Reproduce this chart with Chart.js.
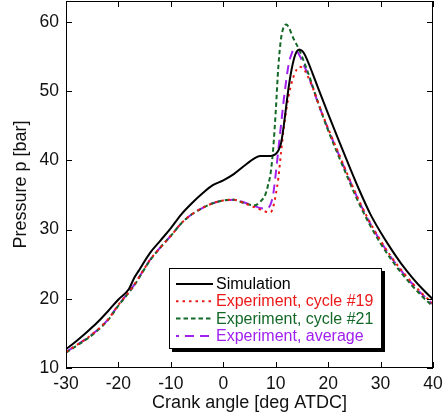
<!DOCTYPE html>
<html><head><meta charset="utf-8">
<script src="https://cdn.jsdelivr.net/npm/chart.js@4/dist/chart.umd.min.js"></script>
<style>html,body{margin:0;padding:0;background:#fff;overflow:hidden}canvas{display:block}</style>
</head><body>
<canvas id="c" width="446" height="419"></canvas>
<script>
// Crank angle [deg ATDC]
const angles = [-30,-28,-26,-24,-22,-20,-18,-17,-16,-14,-12,-10,-8,-6,-4,-2,0,2,4,6,7,8,8.5,9,9.5,10,10.5,11,11.5,12,12.5,13,13.5,14,14.5,15,15.5,16,17,18,20,22,24,26,28,30,32,34,36,38,40];
// Pressure [bar]
const simulation = [12.7,13.9,15.2,16.6,18.2,19.9,21.4,23.0,24.2,26.6,28.4,30.2,32.2,33.8,35.2,36.4,37.1,38.0,39.2,40.3,40.6,40.6,40.6,40.6,40.7,40.9,41.4,42.4,44.8,47.8,50.7,53.0,54.7,55.7,56.0,55.8,55.3,54.5,52.6,50.6,46.7,42.9,39.2,35.6,32.3,29.6,27.2,25.0,23.1,21.4,19.9];
const cycle19 = [12.3,13.3,14.3,15.5,17.0,19.1,21.0,22.0,23.2,25.6,27.4,29.1,30.9,32.2,33.1,33.8,34.2,34.3,33.8,33.2,32.9,32.6,32.5,32.5,33.2,35.0,37.4,41.0,44.4,47.2,49.4,51.1,52.3,53.1,53.5,53.4,53.0,52.3,50.6,48.5,44.6,41.0,37.4,34.0,31.0,28.4,26.1,24.1,22.3,20.7,19.3];
const cycle21 = [12.2,13.2,14.2,15.4,16.9,19.0,20.9,21.9,23.1,25.5,27.4,29.1,30.9,32.2,33.1,33.8,34.2,34.3,33.8,33.5,34.0,35.0,36.3,38.0,41.5,47.0,53.5,57.5,59.2,59.6,59.2,58.3,57.4,56.7,55.9,55.0,54.0,53.0,50.8,48.5,44.3,40.6,37.0,33.6,30.6,28.0,25.7,23.7,21.9,20.3,18.9];
const average = [12.3,13.3,14.3,15.5,17.0,19.1,21.0,22.0,23.2,25.6,27.4,29.1,30.9,32.2,33.1,33.8,34.2,34.3,33.9,33.4,33.1,33.0,33.1,33.6,35.0,38.0,41.5,45.0,48.5,51.5,54.0,55.3,56.0,55.8,55.2,54.4,53.5,52.7,50.6,48.4,44.5,40.9,37.3,33.9,30.9,28.3,26.0,24.0,22.2,20.6,19.2];
const xTicks = [-30,-20,-10,0,10,20,30,40];
const yTicks = [10,20,30,40,50,60];
const seriesLabels = ['Simulation','Experiment, cycle #19','Experiment, cycle #21','Experiment, average'];
const seriesColors = ['#000000','rgb(235,25,25)','rgb(20,105,40)','rgb(160,32,240)'];
const seriesDash = [[],[2.5,4],[4.5,3],[9,6]];
const seriesValues = [simulation, cycle19, cycle21, average];

const FONT = "'Liberation Sans', Arial, sans-serif";

const datasets = seriesValues.map((vals,i)=>({
  label: seriesLabels[i],
  data: angles.map((a,j)=>({x:a,y:vals[j]})),
  borderColor: seriesColors[i],
  borderWidth: 2,
  borderDash: seriesDash[i],
  pointRadius: 0,
  fill: false,
  cubicInterpolationMode: 'monotone'
}));

const frameLegend = {
  id: 'frameLegend',
  afterDraw(chart){
    const {ctx, chartArea:a, scales} = chart;
    ctx.save();
    ctx.strokeStyle = '#000';
    ctx.lineWidth = 1;
    ctx.setLineDash([]);
    ctx.strokeRect(a.left+0.5, a.top+0.5, a.right-a.left-1, a.bottom-a.top-1);
    const L = 6;
    ctx.beginPath();
    xTicks.forEach(v=>{
      const x = Math.round(scales.x.getPixelForValue(v))+0.5;
      ctx.moveTo(x,a.bottom); ctx.lineTo(x,a.bottom-L);
      ctx.moveTo(x,a.top); ctx.lineTo(x,a.top+L);
    });
    yTicks.forEach(v=>{
      const y = Math.round(scales.y.getPixelForValue(v))+0.5;
      ctx.moveTo(a.left,y); ctx.lineTo(a.left+L,y);
      ctx.moveTo(a.right,y); ctx.lineTo(a.right-L,y);
    });
    ctx.stroke();

    // legend box
    const bx = 169, by = 268, bw = 213, bh = 81;
    ctx.fillStyle = '#000';
    ctx.fillRect(bx+3, by+3, bw, bh);
    ctx.fillStyle = '#fff';
    ctx.fillRect(bx, by, bw, bh);
    ctx.strokeRect(bx+0.5, by+0.5, bw-1, bh-1);
    ctx.font = '16px ' + FONT;
    ctx.textBaseline = 'middle';
    ctx.textAlign = 'left';
    chart.data.datasets.forEach((ds,i)=>{
      const y = 284 + i*17.3;
      ctx.strokeStyle = ds.borderColor;
      ctx.lineWidth = 2;
      ctx.setLineDash(ds.borderDash);
      ctx.lineDashOffset = i===3 ? -9 : 0;
      ctx.beginPath();
      ctx.moveTo(176,y); ctx.lineTo(213,y);
      ctx.stroke();
      ctx.fillStyle = ds.borderColor;
      ctx.fillText(ds.label, 216, y+0.5);
    });
    ctx.restore();
  }
};

new Chart(document.getElementById('c'), {
  type: 'line',
  data: { datasets },
  options: {
    responsive: false,
    animation: false,
    devicePixelRatio: 1,
    layout: { padding: { left: 0, top: 1, right: 13, bottom: 0 } },
    plugins: { legend: { display: false }, tooltip: { enabled: false } },
    scales: {
      x: {
        type: 'linear', min: -30, max: 40,
        afterBuildTicks: s => { s.ticks = xTicks.map(v=>({value:v})); },
        afterFit: s => { s.height = 51; s.paddingLeft = 0; s.paddingRight = 0; },
        grid: { display: false, drawTicks: false },
        border: { display: false },
        ticks: { color: '#111', font: { family: FONT, size: 17.5 }, padding: 6, maxRotation: 0 },
        title: { display: true, text: 'Crank angle [deg ATDC]', color: '#111', font: { family: FONT, size: 18 }, padding: { top: 0, bottom: 5 } }
      },
      y: {
        type: 'linear', min: 10, max: 63,
        afterBuildTicks: s => { s.ticks = yTicks.map(v=>({value:v})); },
        afterFit: s => { s.width = 66; s.paddingTop = 0; s.paddingBottom = 0; },
        grid: { display: false, drawTicks: false },
        border: { display: false },
        ticks: { color: '#111', font: { family: FONT, size: 17.5 }, padding: 7 },
        title: { display: true, text: 'Pressure p [bar]', color: '#111', font: { family: FONT, size: 18 }, padding: { top: 10, bottom: 0 } }
      }
    }
  },
  plugins: [frameLegend]
});
</script>
</body></html>
